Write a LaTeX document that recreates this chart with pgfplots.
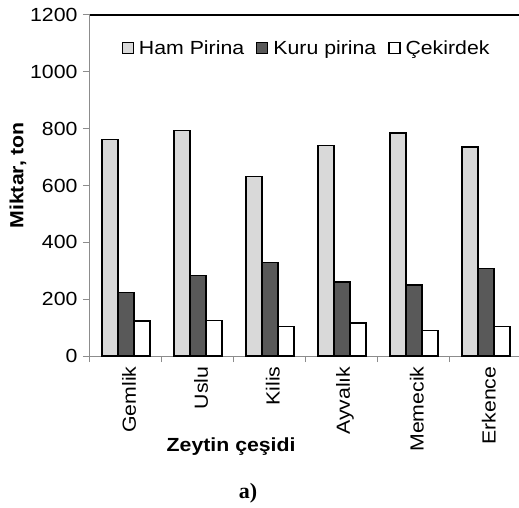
\documentclass[border=0pt]{standalone}
\usepackage{fontspec}
\setmainfont{Liberation Sans}[FakeStretch=1.12]
\newfontfamily\serifb{Liberation Serif}
\usepackage{pgfplots}
\pgfplotsset{compat=1.18}
\definecolor{lgray}{HTML}{D9D9D9}
\definecolor{dgray}{HTML}{595959}
\definecolor{axgray}{HTML}{8C8C8C}
\begin{document}
\begin{tikzpicture}[x=1pt,y=1pt]
\path[use as bounding box] (0,0) rectangle (519,507);
\begin{axis}[
  at={(90pt,151pt)}, anchor=south west,
  scale only axis, width=429pt, height=341pt,
  xmin=-0.5, xmax=5.46, ymin=0, ymax=1200,
  ybar=0pt, bar width=16pt,
  axis lines*=left,
  axis line style={draw=axgray, line width=1pt},
  xtick={0,...,5},
  xticklabels={Gemlik,Uslu,Kilis,Ayvalık,Memecik,Erkence},
  minor xtick={-0.5,0.5,...,5.5},
  major x tick style={draw=none},
  minor x tick style={draw=axgray, line width=1pt},
  major y tick style={draw=axgray, line width=1pt},
  tick align=outside,
  major tick length=7pt, minor tick length=6pt,
  ytick={0,200,...,1200},
  /pgf/number format/assume math mode=true,
  /pgf/number format/1000 sep={},
  tick label style={font=\fontsize{19}{21}\selectfont},
  yticklabel style={xshift=-2pt},
  xticklabel style={rotate=90, anchor=east, yshift=-3pt},
  ylabel={Miktar, ton},
  ylabel style={font=\bfseries\fontsize{19}{21}\selectfont, at={(axis description cs:-0.168,0.53)}, anchor=center, rotate=0},
  xlabel={Zeytin çeşidi},
  xlabel style={font=\bfseries\fontsize{19}{21}\selectfont, at={(axis description cs:0.329,0)}, anchor=center, yshift=-91pt},
  legend columns=3,
  legend style={draw=none, fill=none, font=\fontsize{19}{21}\selectfont,
    at={(axis description cs:0.505,0.903)}, anchor=center,
    /tikz/every odd column/.append style={column sep=3pt},
    /tikz/every even column/.append style={column sep=10pt}},
  legend cell align=left,
  every axis plot post/.append style={legend image code/.code={\draw[#1, draw=black, line width=1.2pt] (0pt,-5.5pt) rectangle (11pt,5.5pt);}},
]
\addplot[fill=lgray, draw=black, line width=1.3pt] coordinates {(0,762) (1,794) (2,632) (3,740) (4,785) (5,736)};
\addplot[fill=dgray, draw=black, line width=1.3pt] coordinates {(0,224) (1,284) (2,328) (3,260) (4,250) (5,308)};
\addplot[fill=white, draw=black, line width=1.3pt] coordinates {(0,123) (1,124) (2,104) (3,116) (4,90) (5,103)};
\legend{Ham Pirina, Kuru pirina, Çekirdek}
\draw[black, line width=1.5pt] (rel axis cs:0,1) -- (rel axis cs:1,1);
\end{axis}
\node[font=\serifb\bfseries\fontsize{22}{25}\selectfont] at (248,14) {a)};
\end{tikzpicture}
\end{document}
